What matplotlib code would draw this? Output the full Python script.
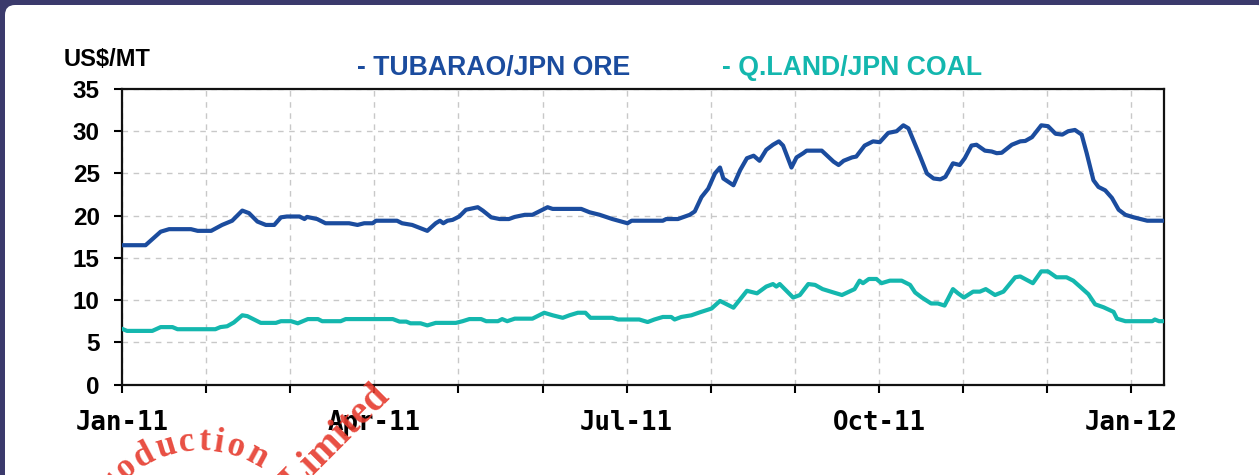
import numpy as np
import matplotlib
matplotlib.use('Agg')
import matplotlib.pyplot as plt
from matplotlib.patches import FancyBboxPatch

# weekly freight rates, x in months from Jan 2011
ore_month = [0, 0.28, 0.46, 0.56, 0.82, 0.9, 1.06, 1.19, 1.31, 1.43, 1.51, 1.61, 1.71, 1.81,
             1.89, 1.96, 2.11, 2.17, 2.2, 2.32, 2.42, 2.7, 2.8, 2.88, 2.98, 3.02, 3.27, 3.33,
             3.45, 3.63, 3.73, 3.78, 3.82, 3.87, 3.93, 4.01, 4.09, 4.23, 4.29, 4.39, 4.49, 4.6,
             4.67, 4.79, 4.88, 5.06, 5.12, 5.46, 5.56, 5.68, 5.83, 6.01, 6.06, 6.43, 6.47, 6.61,
             6.75, 6.81, 6.89, 6.97, 7.05, 7.11, 7.15, 7.27, 7.35, 7.43, 7.51, 7.58, 7.66, 7.74,
             7.81, 7.86, 7.96, 8.02, 8.1, 8.14, 8.32, 8.46, 8.52, 8.58, 8.68, 8.73, 8.83, 8.93,
             9.01, 9.11, 9.21, 9.29, 9.35, 9.49, 9.57, 9.65, 9.73, 9.79, 9.88, 9.96, 10.02, 10.1,
             10.16, 10.26, 10.34, 10.4, 10.46, 10.58, 10.68, 10.74, 10.82, 10.93, 11.01, 11.1,
             11.18, 11.25, 11.33, 11.41, 11.47, 11.55, 11.61, 11.69, 11.77, 11.85, 11.93, 12.03,
             12.11, 12.19, 12.38]
ore_price = [16.5, 16.5, 18.1, 18.4, 18.4, 18.2, 18.2, 18.9, 19.4, 20.6, 20.3, 19.3, 18.9, 18.9,
             19.8, 19.9, 19.9, 19.6, 19.85, 19.6, 19.1, 19.1, 18.9, 19.1, 19.1, 19.4, 19.4, 19.1,
             18.9, 18.2, 19.1, 19.4, 19.1, 19.4, 19.5, 19.9, 20.7, 21.0, 20.6, 19.8, 19.6, 19.6,
             19.85, 20.1, 20.1, 21.0, 20.8, 20.8, 20.4, 20.1, 19.6, 19.1, 19.4, 19.4, 19.6, 19.6,
             20.1, 20.5, 22.2, 23.2, 25.0, 25.7, 24.4, 23.6, 25.4, 26.8, 27.1, 26.5, 27.8, 28.4,
             28.8, 28.3, 25.7, 26.9, 27.4, 27.7, 27.7, 26.4, 26.0, 26.5, 26.9, 27.0, 28.3, 28.8,
             28.7, 29.8, 30.0, 30.7, 30.35, 27.0, 25.0, 24.4, 24.3, 24.6, 26.2, 26.0, 26.8, 28.3,
             28.4, 27.7, 27.6, 27.4, 27.45, 28.4, 28.8, 28.85, 29.3, 30.7, 30.6, 29.7,
             29.6, 30.0, 30.15, 29.6, 27.4, 24.2, 23.4, 23.0, 22.1, 20.7, 20.1, 19.8,
             19.6, 19.4, 19.4]

coal_month = [0, 0.06, 0.36, 0.46, 0.6, 0.66, 1.11, 1.17, 1.25, 1.33, 1.43, 1.49, 1.65, 1.83,
              1.89, 2.01, 2.09, 2.21, 2.33, 2.38, 2.6, 2.66, 3.22, 3.3, 3.38, 3.43, 3.55, 3.63,
              3.73, 3.97, 4.05, 4.13, 4.27, 4.33, 4.47, 4.52, 4.58, 4.67, 4.88, 5.02, 5.12, 5.24,
              5.32, 5.42, 5.51, 5.57, 5.83, 5.9, 6.15, 6.25, 6.33, 6.43, 6.53, 6.57, 6.65, 6.77,
              6.87, 7.01, 7.11, 7.27, 7.43, 7.55, 7.66, 7.74, 7.78, 7.82, 7.98, 8.06, 8.16, 8.24,
              8.33, 8.46, 8.56, 8.71, 8.77, 8.81, 8.88, 8.97, 9.03, 9.13, 9.27, 9.37, 9.43, 9.51,
              9.62, 9.7, 9.78, 9.88, 9.94, 10.01, 10.12, 10.2, 10.27, 10.38, 10.48, 10.62, 10.68,
              10.83, 10.93, 11.01, 11.11, 11.23, 11.31, 11.39, 11.49, 11.57, 11.67, 11.79, 11.83,
              11.93, 12.25, 12.28, 12.33, 12.38]
coal_price = [6.6, 6.35, 6.35, 6.8, 6.8, 6.55, 6.55, 6.8, 6.9, 7.35, 8.2, 8.1, 7.3, 7.3,
              7.5, 7.5, 7.25, 7.75, 7.75, 7.5, 7.5, 7.75, 7.75, 7.45, 7.45, 7.25, 7.25, 7.0,
              7.3, 7.3, 7.5, 7.75, 7.75, 7.5, 7.5, 7.75, 7.5, 7.8, 7.8, 8.5, 8.2, 7.9,
              8.2, 8.5, 8.5, 7.9, 7.9, 7.7, 7.7, 7.4, 7.7, 8.0, 8.0, 7.7, 8.0, 8.2,
              8.55, 9.0, 9.9, 9.1, 11.1, 10.8, 11.6, 11.9, 11.6, 11.9, 10.3, 10.6, 11.9, 11.8,
              11.3, 10.9, 10.6, 11.3, 12.3, 12.0, 12.5, 12.5, 12.0, 12.3, 12.3, 11.8, 10.9, 10.3,
              9.6, 9.6, 9.35, 11.3, 10.8, 10.3, 11.0, 11.0, 11.3, 10.6, 11.0, 12.7, 12.8,
              12.0, 13.4, 13.4, 12.7, 12.7, 12.3, 11.6, 10.7, 9.5, 9.15, 8.6, 7.8,
              7.5, 7.5, 7.7, 7.5, 7.5]

month_ticks = list(range(13))
month_labels = ['Jan-11', '', '', 'Apr-11', '', '', 'Jul-11', '', '', 'Oct-11', '', '', 'Jan-12']
price_ticks = [0, 5, 10, 15, 20, 25, 30, 35]

ore_color = '#1b4c9e'
coal_color = '#14b7ae'

fig = plt.figure(figsize=(12.59, 4.75), dpi=100)
fig.patch.set_facecolor('#3b3a6c')
panel = FancyBboxPatch((5, -30), 1262, 500, boxstyle='round,pad=0,rounding_size=10',
                       transform=None, facecolor='white', edgecolor='none', zorder=-1)
fig.add_artist(panel)

ax = fig.add_axes([0.0969, 0.1905, 0.8277, 0.6221])
ax.plot(ore_month, ore_price, color=ore_color, lw=3.0, solid_joinstyle='round',
        solid_capstyle='round', zorder=3)
ax.plot(coal_month, coal_price, color=coal_color, lw=3.0, solid_joinstyle='round',
        solid_capstyle='round', zorder=3)

ax.set_xlim(0, 12.39)
ax.set_ylim(0, 35)
ax.set_xticks(month_ticks)
ax.set_xticklabels(month_labels, fontfamily='DejaVu Sans Mono', fontweight='bold', fontsize=18.5)
ax.set_yticks(price_ticks)
ax.set_yticklabels([str(v) for v in price_ticks], fontfamily='Liberation Sans',
                   fontweight='bold', fontsize=17.5)
ax.tick_params(axis='x', direction='out', length=6, width=1.5, pad=12)
ax.tick_params(axis='y', direction='out', length=6, width=1.5, pad=10)
ax.grid(True, color='#c8c8c8', lw=1, linestyle=(0, (4, 4)))
for sp in ax.spines.values():
    sp.set_linewidth(1.6)
    sp.set_color('#111111')

fig.text(64, 416, 'US$/MT', transform=None, fontfamily='Liberation Sans', fontweight='bold',
         fontsize=17, va='center', ha='left')
fig.text(357, 407, '- TUBARAO/JPN ORE', transform=None, fontfamily='Liberation Sans',
         fontweight='bold', fontsize=19.2, color=ore_color, va='center', ha='left')
fig.text(722, 407, '- Q.LAND/JPN COAL', transform=None, fontfamily='Liberation Sans',
         fontweight='bold', fontsize=19.2, color=coal_color, va='center', ha='left')

# red company stamp in the lower left corner, letters laid out along an arc
stamp_red = '#e63b2e'
cx, cy, r = 200, -85, 118
word = 'Production'
widths = [0.611, 0.444, 0.5, 0.556, 0.556, 0.444, 0.333, 0.278, 0.5, 0.556]
stamp_size = 25
em = stamp_size * 100 / 72
track = 4.0
pos = np.cumsum([0] + [(a + b) / 2 * em + track for a, b in zip(widths[:-1], widths[1:])])
start = np.deg2rad(129) + pos[2] / r
for ch, s in zip(word, pos):
    ang = start - s / r
    fig.text(cx + r * np.cos(ang), cy + r * np.sin(ang), ch, transform=None,
             rotation=np.rad2deg(ang) - 90, rotation_mode='anchor', ha='center', va='center',
             fontfamily='Liberation Serif', fontweight='bold', fontsize=stamp_size,
             color=stamp_red, alpha=0.9, zorder=10)
fig.text(336, 36, 'Limited', transform=None, rotation=45, rotation_mode='anchor',
         ha='center', va='center', fontfamily='Liberation Serif', fontweight='bold',
         fontsize=29, color=stamp_red, alpha=0.9, zorder=10)

fig.savefig('out.png', dpi=100)
